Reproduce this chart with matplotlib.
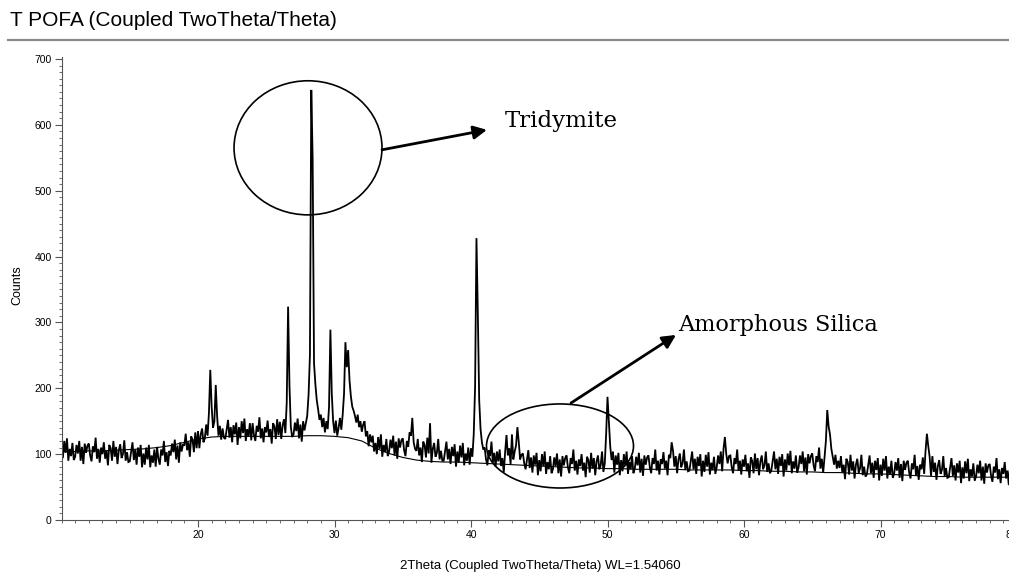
import numpy as np
import matplotlib
matplotlib.use("Agg")
import matplotlib.pyplot as plt
from matplotlib.patches import Ellipse
from matplotlib.ticker import MultipleLocator, FixedLocator
from matplotlib.lines import Line2D
from matplotlib.transforms import ScaledTranslation
from matplotlib import font_manager

# ---------------- data ----------------
two_theta_start = 10.0
two_theta_step = 0.1

counts = [
    111, 94, 120, 102, 124, 90, 108, 97, 117, 91,      # 10
    96, 114, 101, 120, 90, 111, 85, 116, 102, 113,     # 11
    116, 98, 89, 112, 103, 125, 93, 108, 87, 110,      # 12
    100, 118, 93, 105, 83, 114, 109, 90, 120, 96,      # 13
    111, 85, 106, 115, 94, 100, 121, 90, 103, 88,      # 14
    89, 103, 118, 91, 107, 84, 110, 96, 114, 80,       # 15
    101, 84, 110, 92, 114, 80, 98, 87, 107, 81,        # 16
    111, 93, 84, 107, 98, 120, 88, 103, 82, 105,       # 17
    98, 116, 103, 122, 92, 113, 87, 118, 104, 115,     # 18
    113, 131, 106, 118, 96, 127, 122, 103, 133, 109,   # 19
    135, 109, 130, 139, 118, 124, 145, 128, 162, 228,  # 20
    172, 140, 150, 205, 158, 128, 143, 122, 139, 125,  # 21
    123, 137, 152, 125, 141, 118, 144, 130, 148, 114,  # 22
    141, 124, 150, 132, 154, 120, 138, 127, 147, 121,  # 23
    147, 129, 120, 143, 134, 156, 124, 139, 118, 141,  # 24
    133, 151, 126, 138, 116, 147, 142, 123, 153, 129,  # 25
    149, 123, 144, 153, 132, 178, 324, 205, 141, 126,  # 26
    130, 148, 135, 154, 124, 145, 119, 150, 136, 147,  # 27
    158, 190, 250, 653, 547, 238, 206, 182, 168, 152,  # 28
    160, 141, 155, 133, 150, 138, 172, 289, 192, 150,  # 29
    132, 151, 128, 140, 155, 137, 160, 192, 270, 232,  # 30
    258, 212, 188, 172, 166, 158, 148, 160, 141, 150,  # 31
    134, 145, 150, 127, 135, 112, 130, 118, 128, 104,  # 32
    117, 100, 126, 108, 130, 96, 114, 103, 123, 97,    # 33
    104, 122, 109, 128, 98, 119, 93, 124, 110, 121,    # 34
    124, 106, 97, 120, 111, 133, 128, 155, 118, 108,   # 35
    105, 123, 98, 110, 88, 119, 114, 95, 125, 101,     # 36
    147, 87, 108, 117, 96, 102, 123, 92, 105, 90,      # 37
    90, 104, 119, 92, 108, 85, 111, 97, 115, 81,       # 38
    104, 87, 113, 95, 117, 83, 101, 90, 110, 84,       # 39
    109, 96, 130, 202, 428, 314, 182, 138, 118, 107,   # 40
    110, 92, 83, 106, 97, 119, 87, 102, 81, 104,       # 41
    89, 107, 82, 94, 72, 103, 129, 98, 109, 85,        # 42
    130, 92, 104, 113, 141, 118, 92, 99, 101, 86,      # 43
    77, 91, 106, 79, 95, 72, 98, 84, 102, 68,          # 44
    91, 74, 100, 82, 104, 70, 88, 77, 97, 71,          # 45
    77, 95, 82, 101, 71, 92, 66, 97, 83, 94,           # 46
    98, 80, 71, 94, 85, 107, 75, 90, 69, 92,           # 47
    82, 100, 75, 87, 65, 96, 91, 72, 102, 78,          # 48
    94, 68, 89, 98, 77, 83, 104, 73, 86, 130,          # 49
    187, 150, 112, 91, 104, 72, 98, 84, 102, 68,       # 50
    91, 74, 100, 82, 104, 70, 88, 77, 97, 71,          # 51
    78, 96, 83, 102, 72, 93, 67, 98, 84, 95,           # 52
    98, 80, 71, 94, 85, 107, 75, 90, 69, 92,           # 53
    85, 103, 78, 90, 68, 99, 94, 118, 105, 81,         # 54
    97, 71, 92, 101, 80, 86, 107, 76, 89, 74,          # 55
    75, 89, 104, 77, 93, 70, 96, 82, 100, 66,          # 56
    90, 73, 99, 81, 103, 69, 87, 76, 96, 70,           # 57
    80, 98, 85, 104, 74, 108, 126, 100, 86, 97,        # 58
    98, 80, 71, 94, 85, 107, 75, 90, 69, 92,           # 59
    81, 99, 74, 86, 64, 95, 90, 71, 101, 77,           # 60
    94, 68, 89, 98, 77, 83, 104, 73, 86, 71,           # 61
    75, 89, 104, 77, 93, 70, 96, 82, 100, 66,          # 62
    92, 75, 101, 83, 105, 71, 89, 78, 98, 72,          # 63
    80, 98, 85, 104, 74, 95, 69, 100, 86, 97,          # 64
    101, 83, 74, 97, 88, 110, 78, 93, 72, 95,          # 65
    120, 167, 142, 130, 108, 96, 84, 99, 78, 90,       # 66
    79, 97, 72, 84, 62, 93, 88, 69, 99, 75,            # 67
    89, 63, 84, 93, 72, 78, 99, 68, 81, 66,            # 68
    69, 83, 98, 71, 87, 64, 90, 76, 94, 60,            # 69
    84, 67, 93, 75, 97, 63, 81, 70, 90, 64,            # 70
    70, 88, 75, 94, 64, 85, 59, 90, 76, 87,            # 71
    90, 72, 63, 86, 77, 99, 67, 82, 61, 84,            # 72
    77, 95, 70, 105, 131, 112, 96, 67, 97, 73,         # 73
    87, 61, 82, 91, 70, 76, 97, 66, 79, 64,            # 74
    65, 79, 94, 67, 83, 60, 86, 72, 90, 56,            # 75
    80, 63, 89, 71, 93, 59, 77, 66, 86, 60,            # 76
    66, 84, 71, 90, 60, 81, 55, 86, 72, 83,            # 77
    85, 67, 58, 81, 72, 94, 62, 77, 56, 79,            # 78
    70, 88, 63, 75, 53, 84, 79, 60, 90, 66,            # 79
    72,                                                # 80
]

background_theta = list(range(10, 81))
background_counts = [
    104, 104, 105, 105, 106, 107, 108, 110, 113, 118,   # 10-19
    123, 126, 127, 127, 127, 127, 127, 127, 128, 128,   # 20-29
    127, 125, 120, 109, 101, 95, 91, 89, 88, 88,        # 30-39
    87, 86, 85, 84, 83, 82, 81, 80, 79, 79,             # 40-49
    78, 78, 77, 77, 77, 77, 76, 76, 76, 76,             # 50-59
    75, 75, 74, 74, 73, 73, 72, 72, 71, 70,             # 60-69
    70, 69, 68, 67, 66, 66, 65, 65, 65, 65,             # 70-79
    65,                                                 # 80
]

x_major_labels = ["20", "30", "40", "50", "60", "70", "80"]
y_major_labels = ["0", "100", "200", "300", "400", "500", "600", "700"]

title_text = "T POFA (Coupled TwoTheta/Theta)"
x_label = "2Theta (Coupled TwoTheta/Theta) WL=1.54060"
y_label = "Counts"

# ---------------- figure ----------------
W, H = 1009, 573
fig = plt.figure(figsize=(W / 100, H / 100), dpi=100)

avail = {f.name for f in font_manager.fontManager.ttflist}
sans = "Liberation Sans" if "Liberation Sans" in avail else "DejaVu Sans"
narrow = "Liberation Sans Narrow" if "Liberation Sans Narrow" in avail else sans
serif = "DejaVu Serif"

X0, X1 = 61.5, 1017.0      # pixel positions of 2theta = 10 and 80
ax = fig.add_axes([X0 / W, (H - 520) / H, (X1 - X0) / W, (520 - 57) / H])

theta = two_theta_start + two_theta_step * np.arange(len(counts))
ax.plot(theta, counts, color="black", lw=1.3, solid_joinstyle="miter")
ax.plot(background_theta, background_counts, color="black", lw=0.8)

ax.set_xlim(10, 80)
ax.set_ylim(0, 703)

for s in ("top", "right"):
    ax.spines[s].set_visible(False)
for s in ("left", "bottom"):
    ax.spines[s].set_color("#555555")
    ax.spines[s].set_linewidth(0.8)

ax.xaxis.set_major_locator(FixedLocator([20, 30, 40, 50, 60, 70, 80]))
ax.set_xticklabels(x_major_labels)
ax.xaxis.set_minor_locator(MultipleLocator(1))
ax.yaxis.set_major_locator(FixedLocator([0, 100, 200, 300, 400, 500, 600, 700]))
ax.set_yticklabels(y_major_labels)
ax.yaxis.set_minor_locator(MultipleLocator(10))

ax.tick_params(axis="both", which="major", length=5, width=0.8, color="#555555",
               labelsize=7.5, direction="out", pad=2)
ax.tick_params(axis="both", which="minor", length=2.5, width=0.6, color="#555555",
               direction="out")
for lab in ax.get_xticklabels() + ax.get_yticklabels():
    lab.set_family(narrow)

# the last x label sits at the clipped right edge in the reference; nudge it
last_tick = ax.xaxis.get_major_ticks()[-1]
last_tick.label1.set_transform(last_tick.label1.get_transform()
                               + ScaledTranslation(-6 / 100, 0, fig.dpi_scale_trans))

# ---------------- titles / labels ----------------
fig.text(10 / W, 1 - 21 / H, title_text, fontsize=15, family=sans,
         ha="left", va="center")
fig.add_artist(Line2D([8 / W, 1.0], [1 - 39.5 / H, 1 - 39.5 / H],
                      transform=fig.transFigure, color="#8a8a8a", lw=1.6))
fig.text(17 / W, 1 - 285 / H, y_label, fontsize=9, family=sans,
         rotation=90, ha="center", va="center")
fig.text(540 / W, 1 - 566 / H, x_label, fontsize=9.5, family=narrow,
         ha="center", va="center")

# ---------------- annotations ----------------
ax.add_patch(Ellipse((28.06, 565.1), 10.84, 203.6, fill=False,
                     edgecolor="black", lw=1.2, clip_on=False))
ax.add_patch(Ellipse((46.52, 112.4), 10.77, 127.6, fill=False,
                     edgecolor="black", lw=1.2, clip_on=False))
ax.annotate("", xy=(41.17, 592.4), xytext=(33.48, 562.1),
            arrowprops=dict(arrowstyle="-|>", lw=2.0, color="black",
                            mutation_scale=20, shrinkA=0, shrinkB=0))
ax.annotate("", xy=(55.02, 281.0), xytext=(47.33, 177.7),
            arrowprops=dict(arrowstyle="-|>", lw=2.0, color="black",
                            mutation_scale=20, shrinkA=0, shrinkB=0))
ax.text(42.49, 606, "Tridymite", family=serif, fontsize=16.5,
        ha="left", va="center")
ax.text(55.16, 296, "Amorphous Silica", family=serif, fontsize=16.2,
        ha="left", va="center")

fig.savefig("out.png", dpi=100)
